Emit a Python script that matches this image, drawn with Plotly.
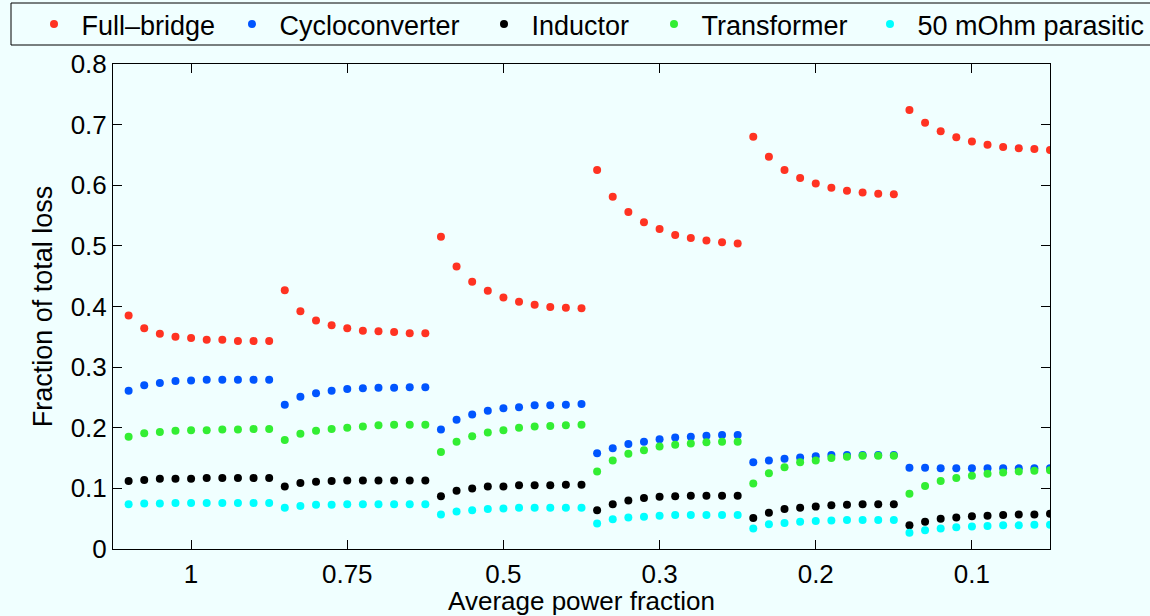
import plotly.graph_objects as go

# Power levels (group labels) and 10 operating points per level
power_levels = ["1", "0.75", "0.5", "0.3", "0.2", "0.1"]
points_per_level = 10
y_ticks = [0, 0.1, 0.2, 0.3, 0.4, 0.5, 0.6, 0.7, 0.8]
y_tick_labels = ["0", "0.1", "0.2", "0.3", "0.4", "0.5", "0.6", "0.7", "0.8"]

full_bridge = [
    0.385, 0.364, 0.355, 0.350, 0.348, 0.345, 0.345, 0.343, 0.343, 0.343,
    0.427, 0.392, 0.377, 0.369, 0.364, 0.360, 0.359, 0.358, 0.356, 0.356,
    0.515, 0.466, 0.441, 0.426, 0.415, 0.408, 0.403, 0.399, 0.398, 0.397,
    0.625, 0.581, 0.556, 0.539, 0.528, 0.518, 0.513, 0.509, 0.506, 0.504,
    0.680, 0.647, 0.625, 0.612, 0.603, 0.596, 0.591, 0.588, 0.586, 0.585,
    0.724, 0.703, 0.689, 0.679, 0.672, 0.667, 0.663, 0.661, 0.660, 0.658,
]
cycloconverter = [
    0.261, 0.270, 0.274, 0.277, 0.278, 0.279, 0.279, 0.279, 0.279, 0.279,
    0.238, 0.251, 0.257, 0.261, 0.264, 0.265, 0.266, 0.266, 0.267, 0.267,
    0.197, 0.213, 0.222, 0.228, 0.232, 0.234, 0.237, 0.237, 0.238, 0.239,
    0.158, 0.166, 0.173, 0.177, 0.181, 0.184, 0.185, 0.187, 0.188, 0.188,
    0.143, 0.146, 0.149, 0.151, 0.153, 0.155, 0.155, 0.155, 0.155, 0.155,
    0.134, 0.134, 0.133, 0.133, 0.133, 0.133, 0.133, 0.133, 0.133, 0.133,
]
inductor = [
    0.112, 0.114, 0.116, 0.116, 0.116, 0.117, 0.117, 0.117, 0.117, 0.117,
    0.103, 0.109, 0.111, 0.112, 0.113, 0.113, 0.113, 0.113, 0.113, 0.113,
    0.087, 0.096, 0.100, 0.103, 0.103, 0.105, 0.105, 0.105, 0.106, 0.106,
    0.064, 0.074, 0.080, 0.084, 0.086, 0.087, 0.088, 0.088, 0.088, 0.088,
    0.051, 0.060, 0.066, 0.068, 0.070, 0.072, 0.073, 0.074, 0.074, 0.074,
    0.039, 0.045, 0.050, 0.052, 0.054, 0.055, 0.056, 0.057, 0.057, 0.058,
]
transformer = [
    0.185, 0.191, 0.193, 0.195, 0.196, 0.196, 0.197, 0.197, 0.198, 0.198,
    0.180, 0.190, 0.195, 0.198, 0.200, 0.202, 0.204, 0.205, 0.205, 0.205,
    0.160, 0.177, 0.186, 0.192, 0.196, 0.200, 0.202, 0.203, 0.204, 0.205,
    0.128, 0.146, 0.157, 0.163, 0.169, 0.172, 0.174, 0.176, 0.177, 0.177,
    0.108, 0.125, 0.135, 0.143, 0.146, 0.150, 0.152, 0.154, 0.154, 0.154,
    0.091, 0.104, 0.112, 0.117, 0.121, 0.124, 0.126, 0.128, 0.129, 0.130,
]
parasitic = [
    0.074, 0.075, 0.075, 0.076, 0.076, 0.076, 0.076, 0.076, 0.076, 0.076,
    0.068, 0.071, 0.073, 0.073, 0.074, 0.074, 0.074, 0.074, 0.074, 0.074,
    0.057, 0.062, 0.064, 0.066, 0.067, 0.068, 0.068, 0.068, 0.068, 0.068,
    0.042, 0.049, 0.052, 0.053, 0.055, 0.056, 0.056, 0.056, 0.056, 0.056,
    0.034, 0.041, 0.043, 0.045, 0.046, 0.047, 0.048, 0.048, 0.048, 0.048,
    0.027, 0.031, 0.034, 0.036, 0.037, 0.038, 0.039, 0.039, 0.040, 0.040,
]

series_names = ["Full\u2013bridge", "Cycloconverter", "Inductor", "Transformer", "50 mOhm parasitic"]
series_values = [full_bridge, cycloconverter, inductor, transformer, parasitic]
series_colors = ["#FF3322", "#0055FF", "#000000", "#33EE33", "#00FFFF"]

x_index = list(range(1, len(full_bridge) + 1))
tick_positions = [5 + points_per_level * i for i in range(len(power_levels))]

BG = "#F0FFFF"
FONT = "Liberation Sans, Arial, Helvetica, sans-serif"
FS = 26
FS_LEG = 27

W, H = 1150, 616
M_L, M_R, M_T, M_B = 113, 100, 64, 67

# Left edge (px) of each legend entry along the top strip
legend_left_px = [34, 232, 484, 654, 870]
legend_ids = ["legend", "legend2", "legend3", "legend4", "legend5"]

fig = go.Figure()
for name, vals, color, lid in zip(series_names, series_values, series_colors, legend_ids):
    fig.add_trace(go.Scatter(
        x=x_index, y=vals, mode="markers", name="\u00a0" + name, legend=lid,
        showlegend=True,
        marker=dict(color=color, size=8, line=dict(width=0)),
    ))

axis_common = dict(
    showline=True, linecolor="black", linewidth=1, mirror="ticks",
    ticks="inside", ticklen=9, tickwidth=1, tickcolor="black",
    showgrid=False, zeroline=False,
    tickfont=dict(size=FS, color="black", family=FONT),
)

fig.update_xaxes(
    range=[0, 60], tickvals=tick_positions, ticktext=power_levels,
    ticklabelstandoff=2,
    title=dict(text="Average power fraction", font=dict(size=FS, color="black", family=FONT), standoff=3),
    **axis_common,
)
fig.update_yaxes(
    range=[0, 0.8], tickvals=y_ticks, ticktext=y_tick_labels,
    title=dict(text="Fraction of total loss", font=dict(size=27, color="black", family=FONT), standoff=10),
    **axis_common,
)

# Legend frame spanning the top strip of the figure
fig.add_shape(
    type="rect", xref="paper", yref="paper",
    x0=(11 - M_L) / (W - M_L - M_R), x1=(W + 4 - M_L) / (W - M_L - M_R),
    y0=1 + (M_T - 45) / (H - M_T - M_B), y1=1 + (M_T - 3) / (H - M_T - M_B),
    line=dict(color="black", width=1), fillcolor=BG, layer="below",
)

legends = {}
for lid, left in zip(legend_ids, legend_left_px):
    legends[lid] = dict(
        orientation="h", xref="container", yref="container",
        x=left / W, y=1.0, xanchor="left", yanchor="top",
        bgcolor="rgba(0,0,0,0)", borderwidth=0,
        font=dict(size=FS_LEG, color="black", family=FONT),
        visible=True,
    )

fig.update_layout(
    width=W, height=H, showlegend=True,
    margin=dict(l=M_L, r=M_R, t=M_T, b=M_B, autoexpand=False),
    paper_bgcolor=BG, plot_bgcolor=BG,
    font=dict(family=FONT, color="black", size=FS),
    **legends,
)

fig.write_html("out.html")
